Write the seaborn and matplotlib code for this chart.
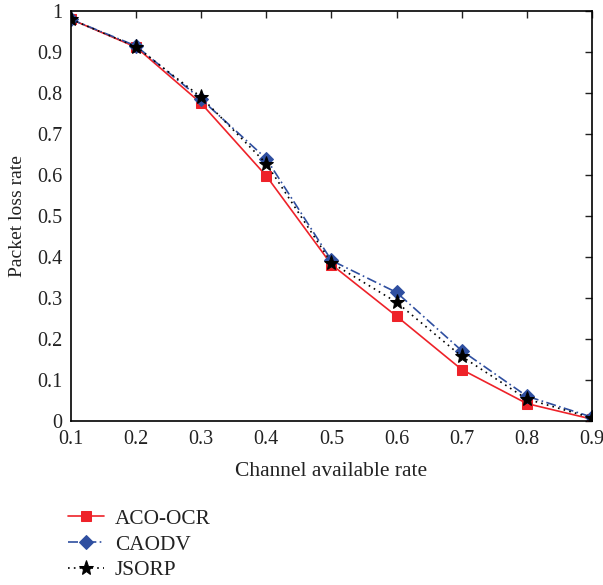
import matplotlib
matplotlib.use("Agg")
import matplotlib.pyplot as plt
import seaborn as sns
import pandas as pd

x_vals = [0.1, 0.2, 0.3, 0.4, 0.5, 0.6, 0.7, 0.8, 0.9]
aco_ocr = [0.98, 0.912, 0.775, 0.598, 0.382, 0.256, 0.126, 0.043, 0.005]
caodv = [0.98, 0.915, 0.785, 0.640, 0.392, 0.314, 0.172, 0.061, 0.010]
jsorp = [0.98, 0.913, 0.790, 0.628, 0.386, 0.290, 0.158, 0.054, 0.008]
series_names = ["ACO-OCR", "CAODV", "JSORP"]
x_ticks = [0.1, 0.2, 0.3, 0.4, 0.5, 0.6, 0.7, 0.8, 0.9]
y_ticks = [0, 0.1, 0.2, 0.3, 0.4, 0.5, 0.6, 0.7, 0.8, 0.9, 1]

sns.set_style("white")
plt.rcParams['font.family'] = ['Liberation Serif', 'DejaVu Serif']

rows = []
for name, vals in zip(series_names, [aco_ocr, caodv, jsorp]):
    for xv, yv in zip(x_vals, vals):
        rows.append({"x": xv, "y": yv, "series": name})
df = pd.DataFrame(rows)

fig = plt.figure(figsize=(6.03, 5.85), dpi=100)
ax = fig.add_axes([0.1177, 0.280, 0.864, 0.701])

palette = {"ACO-OCR": "#EE2229", "CAODV": "#2F4FA0", "JSORP": "#000000"}
dashes = {"ACO-OCR": "", "CAODV": (6, 2, 1, 2), "JSORP": (1, 2.5)}
markers = {"ACO-OCR": "s", "CAODV": "D", "JSORP": "*"}
sizes = {"ACO-OCR": 7.5, "CAODV": 7, "JSORP": 11}

for name in series_names:
    sub = df[df.series == name]
    sns.lineplot(data=sub, x="x", y="y", ax=ax, color=palette[name],
                 dashes=False, marker=markers[name], markersize=sizes[name],
                 markeredgecolor=palette[name], linewidth=1.2, label=name,
                 linestyle=(0, dashes[name]) if dashes[name] else "-")

ax.set_xlim(0.1, 0.9)
ax.set_ylim(0, 1)
ax.set_xticks(x_ticks)
ax.set_xticklabels([f"{v:g}" for v in x_ticks])
ax.set_yticks(y_ticks)
ax.set_yticklabels([f"{v:g}" for v in y_ticks])
ax.tick_params(direction="in", length=5, width=1, top=True, right=True,
               labelsize=14.5, colors="#222222", pad=6)
for s in ax.spines.values():
    s.set_visible(True)
    s.set_color("black")
    s.set_linewidth(1.2)
ax.set_xlabel("Channel available rate", fontsize=15.5, labelpad=10, color="#222222")
ax.set_ylabel("Packet loss rate", fontsize=14, color="#222222")
ax.yaxis.set_label_coords(-0.087, 0.5)

leg = ax.legend(loc="upper left", bbox_to_anchor=(-0.022, -0.193), frameon=False,
                fontsize=15.3, handlelength=1.7, handletextpad=0.5, labelspacing=0.28,
                borderaxespad=0)
for t in leg.get_texts():
    t.set_color("#222222")

fig.savefig("out.png", dpi=100)
